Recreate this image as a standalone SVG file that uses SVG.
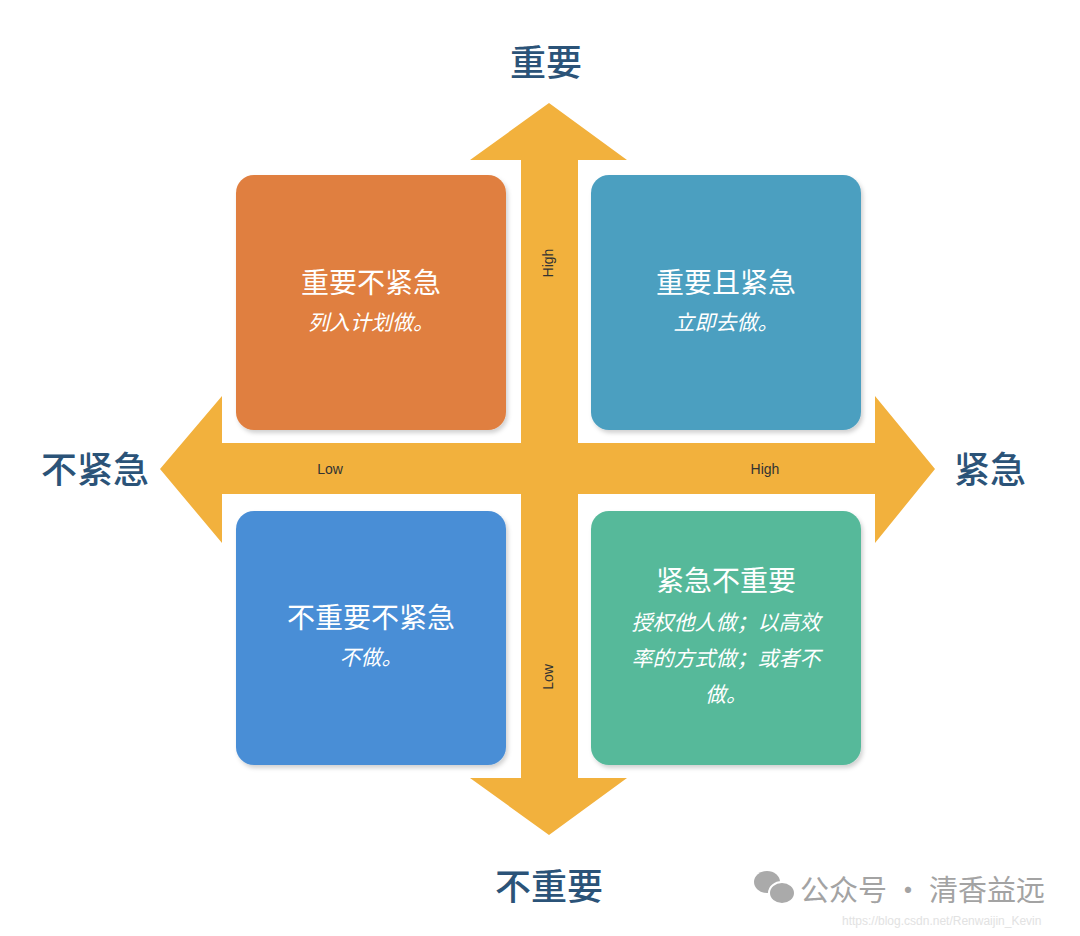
<svg xmlns="http://www.w3.org/2000/svg" width="1080" height="936" viewBox="0 0 1080 936">
<style>
.ax{font-family:"Noto Sans CJK SC","Noto Sans",sans-serif;font-size:36px;fill:#2b5378;font-weight:500;text-anchor:middle}
.t{font-family:"Noto Sans CJK SC","Noto Sans",sans-serif;font-size:28px;fill:#fff;text-anchor:middle}
.s{font-family:"Noto Sans CJK SC","Noto Sans",sans-serif;font-size:21px;fill:#fff;text-anchor:middle;font-style:italic}
.l{font-family:"Liberation Sans",Arial,sans-serif;font-size:14px;fill:#333;text-anchor:middle}
.box{filter:url(#sh)}
</style>
<defs><filter id="sh" x="-10%" y="-10%" width="120%" height="120%"><feDropShadow dx="2" dy="3" stdDeviation="2" flood-color="#000" flood-opacity="0.18"/></filter></defs>
<rect width="1080" height="936" fill="#fff"/>
<g id="connectors">
<polygon fill="#f2b13d" points="549,103 627,160 578,160 578,443 875,443 875,396 935,469 875,543 875,494 578,494 578,778 627,778 549,835 470,778 521,778 521,494 222,494 222,543 160,469 222,396 222,443 521,443 521,160 470,160"/>
<text class="l" transform="translate(553,263) rotate(-90)">High</text>
<text class="l" transform="translate(553,677) rotate(-90)">Low</text>
<text class="l" x="330" y="474">Low</text>
<text class="l" x="765" y="474">High</text>
</g>
<g id="tl"><rect class="box" x="236" y="175" width="270" height="255" rx="18" fill="#e07f3f"/><text class="t" x="371" y="293">重要不紧急</text><text class="s" x="371" y="330">列入计划做。</text></g>
<g id="tr"><rect class="box" x="591" y="175" width="270" height="255" rx="18" fill="#4b9fc0"/><text class="t" x="726" y="293">重要且紧急</text><text class="s" x="726" y="330">立即去做。</text></g>
<g id="bl"><rect class="box" x="236" y="511" width="270" height="254" rx="18" fill="#4a8ed6"/><text class="t" x="371" y="628">不重要不紧急</text><text class="s" x="371" y="665">不做。</text></g>
<g id="br"><rect class="box" x="591" y="511" width="270" height="254" rx="18" fill="#56b99a"/><text class="t" x="726" y="591">紧急不重要</text><text class="s" x="726" y="630">授权他人做；以高效</text><text class="s" x="726" y="666">率的方式做；或者不</text><text class="s" x="726" y="702">做。</text></g>
<g id="labels">
<text class="ax" x="546" y="76">重要</text>
<text class="ax" x="549" y="900">不重要</text>
<text class="ax" x="95" y="483">不紧急</text>
<text class="ax" x="990" y="483">紧急</text>
</g>
<g id="watermark">
<ellipse cx="767" cy="882" rx="13" ry="11" fill="#aaa"/>
<ellipse cx="782" cy="893" rx="13" ry="11" fill="#aaa" stroke="#fff" stroke-width="2"/>
<text x="800" y="901" font-family="'Noto Sans CJK SC',sans-serif" font-size="29" fill="#a3a3a3">公众号 · 清香益远</text>
<text x="842" y="925" font-family="'Liberation Sans',sans-serif" font-size="12" fill="#e2e2e2">https://blog.csdn.net/Renwaijin_Kevin</text>
</g>
</svg>
